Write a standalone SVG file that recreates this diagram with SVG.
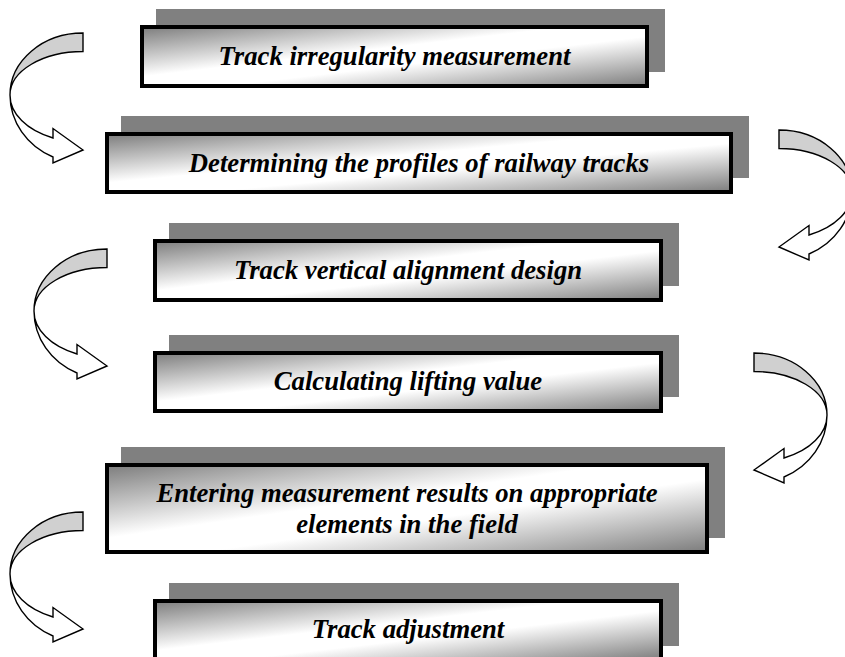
<svg xmlns="http://www.w3.org/2000/svg" xmlns:xlink="http://www.w3.org/1999/xlink" width="845" height="657" viewBox="0 0 845 657">
  <style>
    .shadow { fill: #808080; }
    .box { fill: url(#boxGrad); stroke: #000; stroke-width: 4; }
    .label { font-family: 'Liberation Serif', serif; font-weight: 700; font-style: italic; font-size: 26.7px; text-anchor: middle; fill: #000; }
    .back { fill: #d0d0d0; stroke: #000; stroke-width: 1.4; }
    .front { fill: #fff; stroke: #000; stroke-width: 1.4; }
  </style>
  <defs>
    <linearGradient id="boxGrad" x1="0" y1="0" x2="1" y2="1">
      <stop offset="0" stop-color="#7c7c7c"/>
      <stop offset="0.42" stop-color="#ffffff"/>
      <stop offset="0.58" stop-color="#ffffff"/>
      <stop offset="1" stop-color="#7c7c7c"/>
    </linearGradient>
    <g id="curvedArrow">
      <path class="back" d="M0,0 A73,62 0 0 0 -73,62 A73,43.5 0 0 1 0,18.5 Z"/>
      <path class="front" d="M-73,62 A73,68 0 0 0 -30,124 L-30,130 L0,117 L-30,95.5 L-30,105 A73,47 0 0 1 -73,62 Z"/>
    </g>
  </defs>
  <rect width="845" height="657" fill="#fff"/>

  <g id="connectors">
    <use xlink:href="#curvedArrow" transform="translate(83,33)"/>
    <use xlink:href="#curvedArrow" transform="translate(779,130) scale(-1,1)"/>
    <use xlink:href="#curvedArrow" transform="translate(107,249)"/>
    <use xlink:href="#curvedArrow" transform="translate(754,353) scale(-1,1)"/>
    <use xlink:href="#curvedArrow" transform="translate(83,512)"/>
  </g>

  <g id="node1">
    <rect class="shadow" x="156" y="9" width="509" height="63"/>
    <rect class="box" x="142" y="27" width="505" height="59"/>
    <text class="label" font-family="Liberation Serif" x="394.5" y="64.5">Track irregularity measurement</text>
  </g>
  <g id="node2">
    <rect class="shadow" x="121" y="116" width="628" height="62"/>
    <rect class="box" x="107" y="134" width="624" height="58"/>
    <text class="label" font-family="Liberation Serif" x="419" y="171.5">Determining the profiles of railway tracks</text>
  </g>
  <g id="node3">
    <rect class="shadow" x="169" y="223" width="510" height="63"/>
    <rect class="box" x="155" y="241" width="506" height="59"/>
    <text class="label" font-family="Liberation Serif" x="408" y="278.5">Track vertical alignment design</text>
  </g>
  <g id="node4">
    <rect class="shadow" x="169" y="335" width="510" height="62"/>
    <rect class="box" x="155" y="353" width="506" height="58"/>
    <text class="label" font-family="Liberation Serif" x="408" y="390">Calculating lifting value</text>
  </g>
  <g id="node5">
    <rect class="shadow" x="121" y="447" width="604" height="91"/>
    <rect class="box" x="107" y="465" width="600" height="87"/>
    <text class="label" font-family="Liberation Serif" x="407" y="502">Entering measurement results on appropriate</text>
    <text class="label" font-family="Liberation Serif" x="407" y="533">elements in the field</text>
  </g>
  <g id="node6">
    <rect class="shadow" x="169" y="583" width="510" height="63"/>
    <rect class="box" x="155" y="601" width="506" height="59"/>
    <text class="label" font-family="Liberation Serif" x="408" y="638">Track adjustment</text>
  </g>
</svg>
